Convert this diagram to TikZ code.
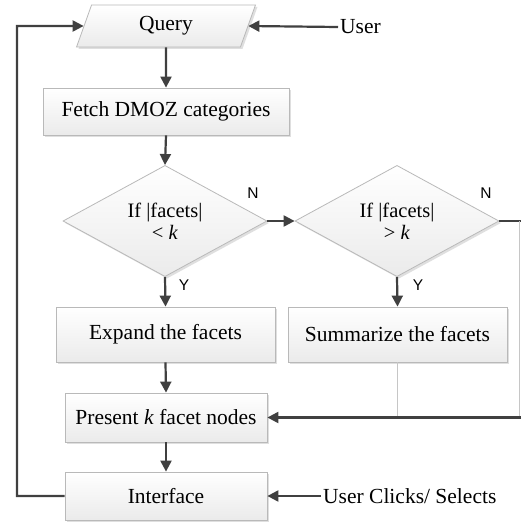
\documentclass[tikz,border=0pt]{standalone}
\usepackage{fontspec}
\setmainfont{Liberation Serif}
\newfontfamily\yn{Liberation Sans}
\usetikzlibrary{shapes.geometric,arrows.meta,shadows}
\begin{document}
\begin{tikzpicture}[x=1pt,y=-1pt,
  every node/.style={font=\fontsize{21.5}{24}\selectfont},
  boxbase/.style={draw=gray!55, line width=0.8pt, top color=white, bottom color=gray!16,
    drop shadow={shadow xshift=2pt, shadow yshift=-2pt, opacity=0.25, fill=gray}},
  procbox/.style={boxbase, rectangle, inner sep=0pt},
  decbox/.style={boxbase, diamond, inner sep=0pt, minimum width=204pt, minimum height=94pt, align=center,
    font=\fontsize{20.5}{23}\selectfont},
  flow/.style={draw=black!75, line width=2.2pt, -{Triangle[length=11pt,width=11pt]}},
  plain/.style={draw=black!75, line width=2.2pt},
  faint/.style={draw=gray!45, line width=0.8pt},
  ynlab/.style={font=\yn\fontsize{15.5}{18}\selectfont}
]
\useasboundingbox (0,0) rectangle (522,524);
\fill[white] (0,0) rectangle (522,524);

\node[boxbase, trapezium, trapezium left angle=74, trapezium right angle=106,
  trapezium stretches=true, minimum width=180pt, minimum height=42pt, inner sep=0pt] (q) at (166,26) {Query};
\node[procbox, minimum width=246pt, minimum height=47pt] (fetch) at (166,111.5) {Fetch DMOZ categories};
\node[decbox] (d1) at (165,221) {If |facets|\\[-1pt] \textless{} \textit{k}};
\node[decbox] (d2) at (397,221) {If |facets|\\[-1pt] \textgreater{} \textit{k}};
\node[procbox, minimum width=219pt, minimum height=55pt] (exp) at (165.5,334.5) {Expand the facets};
\node[procbox, minimum width=219pt, minimum height=55pt] (sum) at (397.5,334.5) {Summarize the facets};
\node[procbox, minimum width=202pt, minimum height=49pt] (pres) at (166,417.5) {Present \textit{k} facet nodes};
\node[procbox, minimum width=202pt, minimum height=48pt] (intf) at (166,496) {Interface};

\node[anchor=west, inner sep=0pt] (user) at (340,27) {User};
\node[anchor=west, inner sep=0pt] (clicks) at (323,496) {User Clicks/ Selects};

\node[ynlab] (n1) at (253,193) {N};
\node[ynlab] (n2) at (486,193) {N};
\node[ynlab] (y1) at (184,285) {Y};
\node[ynlab] (y2) at (418,285) {Y};

\coordinate (lt) at (17,26);
\coordinate (lb) at (17,496);
\coordinate (rt) at (521,221);
\coordinate (rtv) at (519,221);
\coordinate (rbv) at (519,417.5);
\coordinate (rb) at (521,417.5);
\coordinate (sj) at (397.5,417.5);

\draw[flow] (user.west) ++(-2pt,0) -- (q.east);
\draw[flow] (q.south) -- (fetch.north);
\draw[flow] (fetch.south) -- (d1.north);
\draw[flow] (d1.east) -- (d2.west);
\draw[flow] (d1.south) -- (exp.north);
\draw[flow] (d2.south) -- (sum.north);
\draw[flow] (exp.south) -- (pres.north);
\draw[flow] (pres.south) -- (intf.north);
\draw[flow] (clicks.west) ++(-2pt,0) -- (intf.east);
\draw[flow] (intf.west) -- (lb) -- (lt) -- (q.west);
\draw[plain] (d2.east) -- (rt);
\draw[faint] (rtv) -- (rbv);
\draw[faint] (sum.south) -- (sj);
\draw[flow] (rb) -- (pres.east);
\end{tikzpicture}
\end{document}
